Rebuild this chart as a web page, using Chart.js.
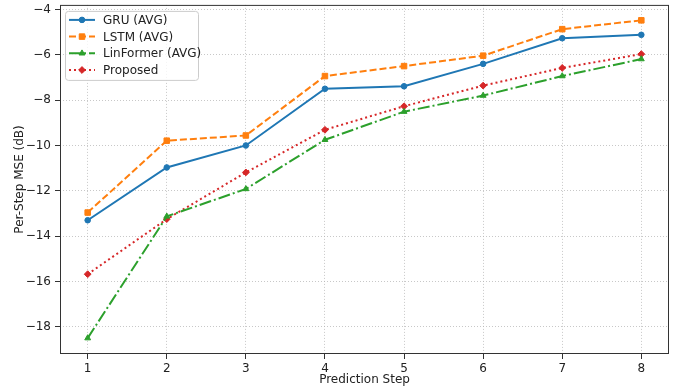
<!DOCTYPE html>
<html>
<head>
<meta charset="utf-8">
<script src="https://cdn.jsdelivr.net/npm/chart.js@4"></script>
<style>
  body { margin: 0; background: #fff; }
  canvas { display: block; }
</style>
</head>
<body>
<canvas id="mse" width="680" height="390"></canvas>
<script>
const steps = [1, 2, 3, 4, 5, 6, 7, 8];
const gruAvg = [-13.3, -10.97, -10.0, -7.5, -7.39, -6.4, -5.27, -5.12];
const lstmAvg = [-12.96, -9.79, -9.56, -6.94, -6.5, -6.04, -4.87, -4.48];
const linformerAvg = [-18.5, -13.13, -11.92, -9.75, -8.51, -7.8, -6.94, -6.19];
const proposed = [-15.68, -13.25, -11.19, -9.31, -8.27, -7.36, -6.58, -5.97];
const yTicks = [-18, -16, -14, -12, -10, -8, -6, -4];

const font = 'DejaVu Sans';
const ink = '#222';

function pts(arr) {
    return steps.map((s, i) => ({ x: s, y: arr[i] }));
}

function series(label, arr, color, dash, style, radius) {
    return {
        label: label,
        data: pts(arr),
        borderColor: color,
        backgroundColor: color,
        borderWidth: 2,
        borderDash: dash,
        pointStyle: style,
        pointRadius: radius,
        pointHoverRadius: radius,
        pointBackgroundColor: color,
        pointBorderColor: color,
        pointBorderWidth: 1,
        tension: 0
    };
}

// frame round the plot + legend box with line samples
const framePlugin = {
    id: 'frame',
    afterDatasetsDraw(chart) {
        const { ctx, chartArea: a } = chart;
        ctx.save();
        ctx.strokeStyle = '#333';
        ctx.lineWidth = 1;
        ctx.strokeRect(a.left + 0.5, a.top + 0.5, a.right - a.left - 1, a.bottom - a.top - 1);

        // legend
        const x0 = a.left + 5, y0 = a.top + 6, w = 133, h = 69, r = 3;
        ctx.beginPath();
        ctx.roundRect(x0 + 0.5, y0 + 0.5, w, h, r);
        ctx.fillStyle = 'rgba(255,255,255,0.8)';
        ctx.fill();
        ctx.strokeStyle = '#cccccc';
        ctx.stroke();
        ctx.font = '12px "' + font + '"';
        ctx.textBaseline = 'middle';
        chart.data.datasets.forEach((ds, i) => {
            const y = y0 + 9 + i * 16.7;
            ctx.strokeStyle = ds.borderColor;
            ctx.lineWidth = 2;
            ctx.setLineDash(ds.borderDash || []);
            ctx.beginPath();
            ctx.moveTo(x0 + 4, y);
            ctx.lineTo(x0 + 30, y);
            ctx.stroke();
            ctx.setLineDash([]);
            ctx.fillStyle = ds.borderColor;
            ctx.strokeStyle = ds.borderColor;
            ctx.lineWidth = 1;
            Chart.helpers.drawPoint(ctx, {
                pointStyle: ds.pointStyle, radius: ds.pointRadius, rotation: 0, borderWidth: 1
            }, x0 + 17, y);
            ctx.fillStyle = ink;
            ctx.fillText(ds.label, x0 + 38, y + 1);
        });
        ctx.restore();
    }
};

new Chart(document.getElementById('mse'), {
    type: 'line',
    data: {
        datasets: [
            series('GRU (AVG)', gruAvg, '#1f77b4', [], 'circle', 2.8),
            series('LSTM (AVG)', lstmAvg, '#ff7f0e', [7, 3], 'rect', 3.9),
            series('LinFormer (AVG)', linformerAvg, '#2ca02c', [12, 3, 2, 3], 'triangle', 3.4),
            series('Proposed', proposed, '#d62728', [2, 3], 'rectRot', 3.4)
        ]
    },
    options: {
        responsive: false,
        animation: false,
        devicePixelRatio: 1,
        layout: { padding: { left: 0, right: 11, top: 4, bottom: 0 } },
        plugins: {
            legend: { display: false },
            tooltip: { enabled: false }
        },
        scales: {
            x: {
                type: 'linear',
                min: 0.65,
                max: 8.35,
                afterBuildTicks: (scale) => { scale.ticks = steps.map(v => ({ value: v })); },
                afterFit: (scale) => {
                    scale.height = 36;
                    scale.paddingLeft = 0;
                    scale.paddingRight = 0;
                },
                ticks: {
                    color: ink,
                    font: { family: font, size: 12 },
                    padding: 3,
                    maxRotation: 0
                },
                grid: {
                    color: 'rgba(176,176,176,0.7)',
                    lineWidth: 1,
                    tickLength: 5,
                    tickColor: '#333',
                    tickWidth: 1,
                    tickBorderDash: []
                },
                border: { display: false, dash: [1, 2] },
                title: {
                    display: true,
                    text: 'Prediction Step',
                    color: ink,
                    font: { family: font, size: 12 },
                    padding: { top: 0, bottom: 3 }
                }
            },
            y: {
                min: -19.2,
                max: -3.8,
                afterBuildTicks: (scale) => { scale.ticks = yTicks.map(v => ({ value: v })); },
                afterFit: (scale) => {
                    scale.width = 60;
                    scale.paddingTop = 0;
                    scale.paddingBottom = 0;
                },
                ticks: {
                    color: ink,
                    font: { family: font, size: 12 },
                    padding: 4,
                    callback: (v) => String(v).replace('-', '\u2212')
                },
                grid: {
                    color: 'rgba(176,176,176,0.7)',
                    lineWidth: 1,
                    tickLength: 5,
                    tickColor: '#333',
                    tickWidth: 1,
                    tickBorderDash: []
                },
                border: { display: false, dash: [1, 2] },
                title: {
                    display: true,
                    text: 'Per-Step MSE (dB)',
                    color: ink,
                    font: { family: font, size: 12 },
                    padding: { top: 13, bottom: 0 }
                }
            }
        }
    },
    plugins: [framePlugin]
});
</script>
</body>
</html>
